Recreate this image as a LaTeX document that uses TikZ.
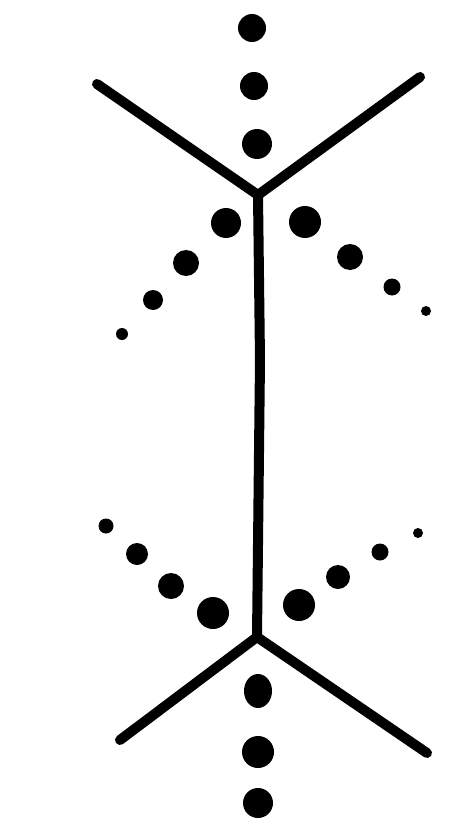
\documentclass[tikz,border=0pt]{standalone}
\begin{document}
\begin{tikzpicture}[x=1pt,y=-1pt,
  bond/.style={line width=10pt,line cap=round,line join=round},
  dotp/.style={fill=black}]
\useasboundingbox (0,0) rectangle (465,824);
\coordinate (jt) at (258,195);
\coordinate (jb) at (257,637);
\coordinate (tl) at (97,84);
\coordinate (tr) at (420,77);
\coordinate (bl) at (120,740);
\coordinate (br) at (427,753);
\draw[bond] (tl) -- (jt) -- (tr);
\draw[bond] (jt) -- (260,360) -- (jb);
\draw[bond] (bl) -- (jb) -- (br);
% top dots
\fill[dotp] (252,28) circle (14);
\fill[dotp] (254,86) circle (14);
\fill[dotp] (257,144) circle (15);
% upper left
\fill[dotp] (226,223) circle (15);
\fill[dotp] (186,263) circle (13);
\fill[dotp] (153,300) circle (10);
\fill[dotp] (122,334) circle (6);
% upper right
\fill[dotp] (305,222) circle (16);
\fill[dotp] (350,257) circle (13);
\fill[dotp] (392,287) circle (8.5);
\fill[dotp] (426,311) circle (5);
% lower left
\fill[dotp] (106,526) circle (7.5);
\fill[dotp] (137,554) circle (11);
\fill[dotp] (171,586) circle (13);
\fill[dotp] (213,613) circle (16);
% lower right
\fill[dotp] (418,533) circle (5);
\fill[dotp] (380,552) circle (8.5);
\fill[dotp] (338,577) circle (12);
\fill[dotp] (299,605) circle (16);
% bottom dots
\fill[dotp] (258,691) ellipse (14 and 17);
\fill[dotp] (258,752) circle (16);
\fill[dotp] (258,803) circle (15);
\end{tikzpicture}
\end{document}
